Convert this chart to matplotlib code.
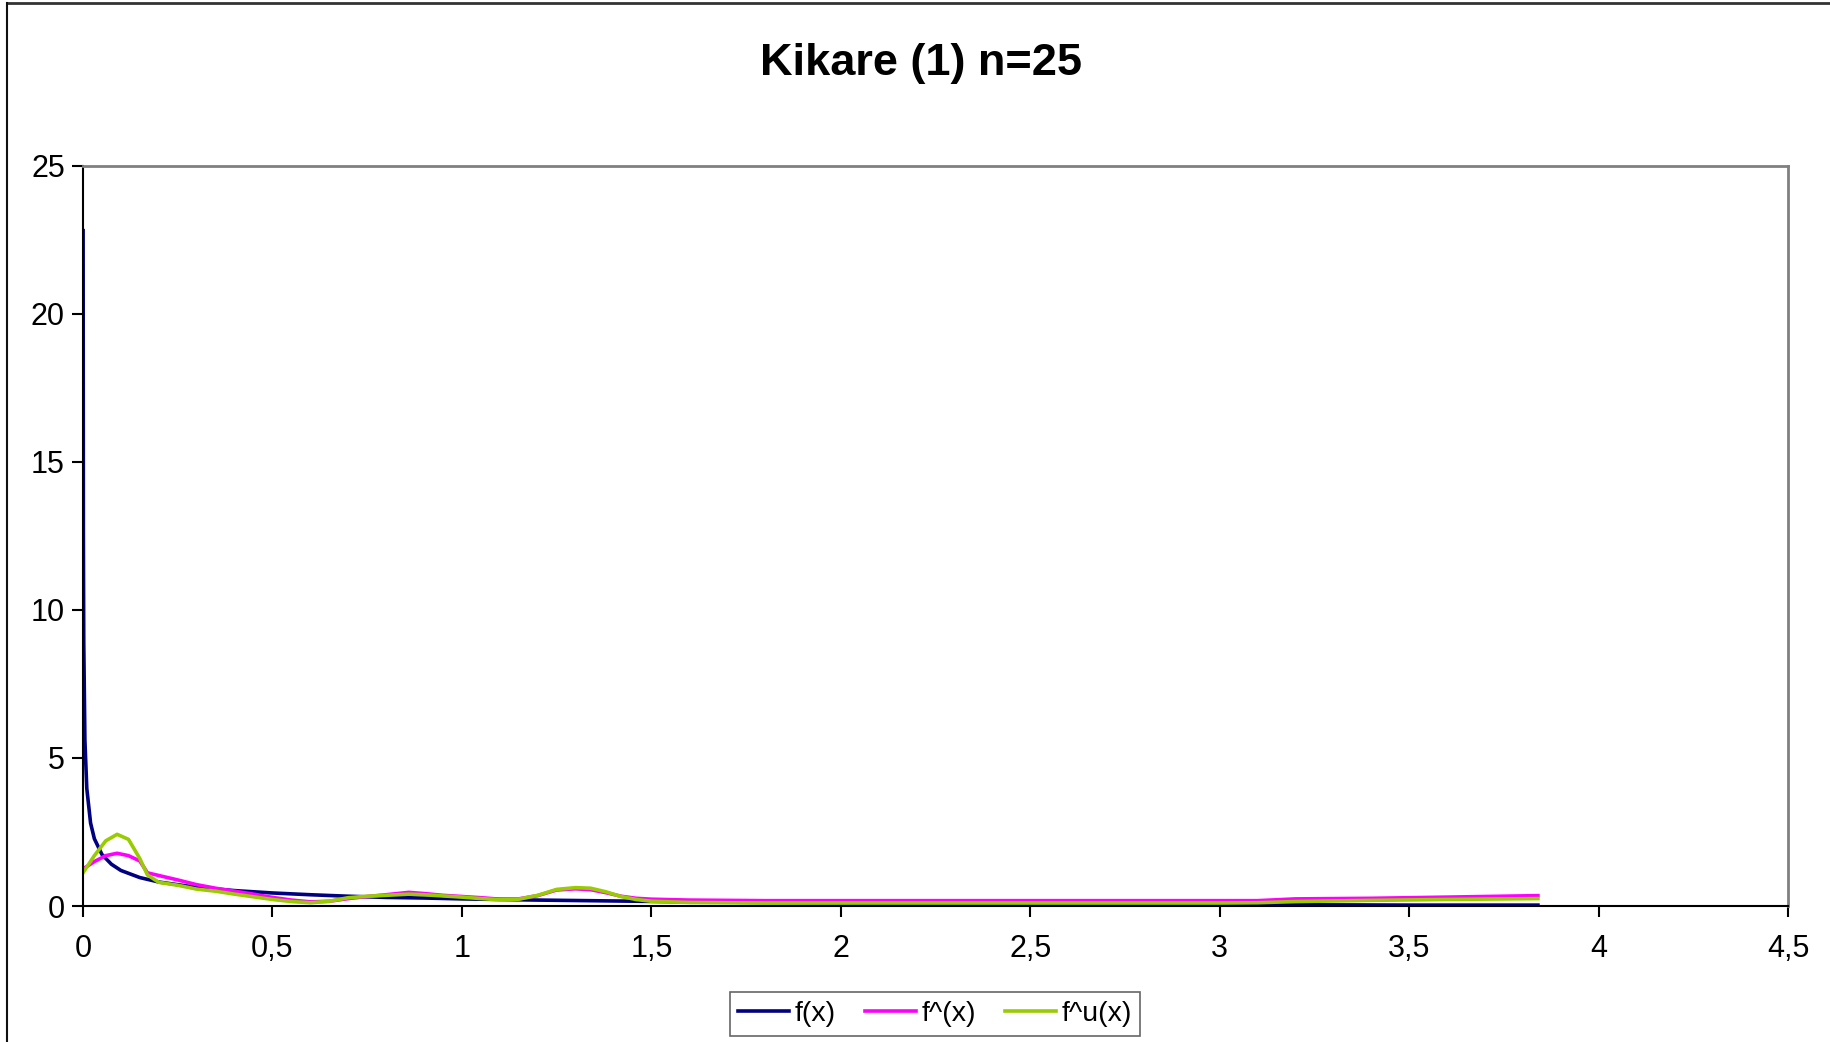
import matplotlib.pyplot as plt
from matplotlib.lines import Line2D

plt.rcParams['font.family'] = ['Liberation Sans', 'DejaVu Sans']

# f(x): chi-square density with 1 degree of freedom
x_f = [0.0003, 0.001, 0.002, 0.005, 0.01, 0.02, 0.03, 0.05, 0.075, 0.10,
       0.15, 0.20, 0.30, 0.40, 0.50, 0.60, 0.70, 0.80, 0.90, 1.00,
       1.20, 1.40, 1.60, 1.80, 2.00, 2.25, 2.50, 2.75, 3.00, 3.25,
       3.50, 3.84]
f_x = [22.8, 12.6, 8.9, 5.6, 3.97, 2.80, 2.27, 1.74, 1.41, 1.20,
       0.96, 0.81, 0.63, 0.52, 0.44, 0.38, 0.33, 0.29, 0.27, 0.24,
       0.20, 0.17, 0.14, 0.12, 0.10, 0.08, 0.07, 0.06, 0.05, 0.04,
       0.03, 0.03]

# kernel estimates f^(x) and f^u(x)
x_est = [0, 0.03, 0.06, 0.09, 0.12, 0.15, 0.17, 0.20, 0.25, 0.30,
         0.35, 0.40, 0.45, 0.50, 0.55, 0.60, 0.65, 0.70, 0.75, 0.80,
         0.86, 0.90, 0.95, 1.00, 1.05, 1.10, 1.15, 1.20, 1.25, 1.30,
         1.34, 1.38, 1.42, 1.46, 1.50, 1.60, 1.80, 2.00, 2.50, 3.00,
         3.10, 3.20, 3.40, 3.60, 3.84]
f_hat = [1.25, 1.50, 1.70, 1.78, 1.70, 1.52, 1.12, 1.03, 0.88, 0.72,
         0.60, 0.50, 0.40, 0.29, 0.20, 0.14, 0.16, 0.25, 0.32, 0.38,
         0.46, 0.42, 0.36, 0.32, 0.28, 0.23, 0.24, 0.35, 0.54, 0.58,
         0.55, 0.45, 0.33, 0.26, 0.23, 0.20, 0.18, 0.18, 0.18, 0.18,
         0.18, 0.24, 0.26, 0.30, 0.35]
f_hat_u = [1.12, 1.70, 2.20, 2.42, 2.25, 1.60, 1.05, 0.80, 0.70, 0.57,
           0.50, 0.40, 0.31, 0.22, 0.15, 0.11, 0.16, 0.28, 0.33, 0.36,
           0.40, 0.38, 0.34, 0.30, 0.25, 0.21, 0.23, 0.36, 0.56, 0.62,
           0.60, 0.48, 0.32, 0.22, 0.16, 0.12, 0.10, 0.10, 0.10, 0.10,
           0.11, 0.15, 0.19, 0.22, 0.25]

x_ticks = [0, 0.5, 1, 1.5, 2, 2.5, 3, 3.5, 4, 4.5]
y_ticks = [0, 5, 10, 15, 20, 25]

fig = plt.figure(figsize=(18.3, 10.42), dpi=100)
ax = fig.add_axes([83 / 1830, 1 - 906 / 1042, (1788 - 83) / 1830, (906 - 165.5) / 1042])

ax.plot(x_f, f_x, color='#000080', lw=2.6, label='f(x)')
ax.plot(x_est, f_hat, color='#FF00FF', lw=2.6, label='f^(x)')
ax.plot(x_est, f_hat_u, color='#99CC00', lw=2.6, label='f^u(x)')

ax.set_xlim(0, 4.5)
ax.set_ylim(0, 25)
ax.set_xticks(x_ticks)
ax.set_xticklabels([('%g' % t).replace('.', ',') for t in x_ticks])
ax.set_yticks(y_ticks)
ax.tick_params(axis='both', labelsize=22, length=8, width=1.5, direction='out')
ax.tick_params(axis='x', pad=12)
ax.tick_params(axis='y', pad=5)

for s in ['left', 'bottom']:
    ax.spines[s].set_color('black')
    ax.spines[s].set_linewidth(1.5)
for s in ['top', 'right']:
    ax.spines[s].set_color('#808080')
    ax.spines[s].set_linewidth(2)

fig.text(921 / 1830, 1 - 64 / 1042, 'Kikare (1) n=25', ha='center', va='center',
         fontsize=32.5, fontweight='bold')

leg = fig.legend(loc='center', bbox_to_anchor=(935 / 1830, 1 - 1014 / 1042), ncol=3,
                 fontsize=20.5, frameon=True, fancybox=False, handlelength=1.8,
                 handletextpad=0.2, columnspacing=1.0, borderpad=0.3)
leg.get_frame().set_edgecolor('#404040')
leg.get_frame().set_linewidth(1.2)

# outer chart border (top and left edges visible)
fig.add_artist(Line2D([7 / 1830, 1.0], [1 - 3 / 1042, 1 - 3 / 1042], color='#333333', lw=2))
fig.add_artist(Line2D([7 / 1830, 7 / 1830], [0, 1 - 3 / 1042], color='#111111', lw=1.5))

fig.savefig('out.png', dpi=100)
